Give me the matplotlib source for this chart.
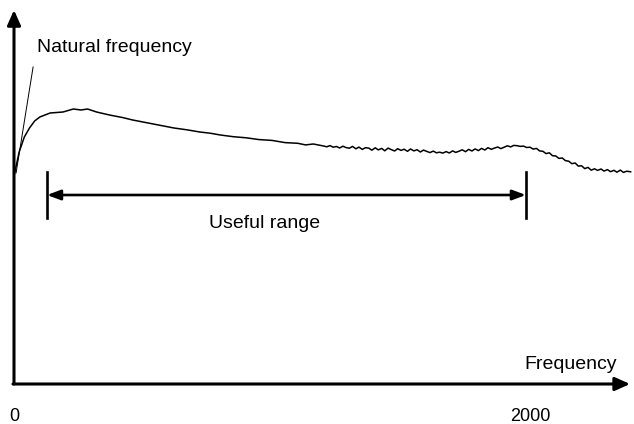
import matplotlib
matplotlib.use("Agg")
import matplotlib.pyplot as plt

plt.rcParams['font.family'] = ['Liberation Sans', 'DejaVu Sans']

# response curve (frequency, amplitude in arbitrary units)
freq = [0, 5, 20, 40, 60, 80, 100, 140, 190, 230, 260, 285, 320, 370, 420, 460,
        530, 580, 620, 670, 720, 760, 800, 850, 900, 950, 1000, 1050, 1100, 1130,
        1160,
        1200, 1212, 1225, 1237, 1250, 1262, 1275, 1287, 1300, 1312, 1325, 1337,
        1350, 1362, 1375, 1387, 1400, 1412, 1425, 1437, 1450, 1462, 1475, 1487,
        1500, 1512, 1525, 1537, 1550, 1562, 1575, 1587, 1600, 1612, 1625, 1637,
        1650, 1662, 1675, 1687, 1700, 1712, 1725, 1737, 1750, 1762, 1775, 1787,
        1800, 1812, 1825, 1837, 1850, 1862, 1875, 1887, 1900, 1912, 1925, 1937,
        1950, 1962, 1975, 1987, 2000, 2012, 2025, 2037, 2050, 2062, 2075, 2087,
        2100, 2112, 2125, 2137, 2150, 2162, 2175, 2187, 2200, 2212, 2225, 2237,
        2250, 2262, 2275, 2287, 2300, 2312, 2325, 2337, 2350, 2362, 2375, 2390]
amp = [208, 214, 232, 247, 256, 263, 267, 271, 272, 275, 274, 275, 272, 269, 266.5, 264,
       260.5, 258, 256, 254.2, 252, 250.8, 249, 247.3, 246.2, 244.4, 243.6, 241.4, 240.7, 239.1,
       240,
       238.0, 237.2, 238.4, 236.8, 237.5, 236.0, 237.8, 236.4, 235.8, 237.6, 235.2, 236.9,
       234.6, 236.3, 235.9, 233.8, 236.2, 234.1, 235.6, 233.2, 235.9, 234.4, 233.0, 235.3,
       233.6, 234.8, 232.7, 235.0, 233.1, 234.3, 232.0, 233.9, 232.6, 231.4, 232.9, 231.2,
       231.8, 230.9, 232.4, 231.0, 233.1, 231.6, 232.8, 234.2, 232.3, 234.6, 233.0, 235.1,
       233.4, 235.6, 234.0, 236.3, 234.7, 235.9, 237.0, 235.4, 236.8, 238.2, 237.1, 238.6,
       238.3, 237.6, 237.9, 236.5, 236.8, 234.9, 235.6, 233.1, 232.7, 230.4, 231.2, 228.3,
       228.0, 225.6, 226.0, 223.4, 222.8, 220.3, 221.0, 217.9, 218.2, 215.4, 216.6, 213.8,
       215.2, 213.6, 215.0, 212.9, 214.4, 212.3, 213.7, 211.8, 213.9, 211.6, 212.8, 212.2]

# tangent at the origin ("natural frequency")
tangent_freq = [8, 74]
tangent_amp = [211, 317]

# useful range marker
range_start, range_end = 128, 1984
range_level = 189
range_tick = [166, 212]

x_ticks = [0, 2000]
x_ticklabels = ['0', '2000']

fig = plt.figure(figsize=(6.34, 4.24), dpi=100)
ax = fig.add_axes([14 / 634, 40 / 424, 620 / 634, 384 / 424])
ax.set_xlim(0, 2403)
ax.set_ylim(0, 384)
for s in ax.spines.values():
    s.set_visible(False)
ax.set_yticks([])
ax.set_xticks(x_ticks)
ax.set_xticklabels(x_ticklabels, fontsize=13)
ax.tick_params(axis='x', length=0, pad=17)

# axes with arrows
ax.annotate('', xy=(0, 374), xytext=(0, 0),
            arrowprops=dict(arrowstyle='-|>,head_length=0.9,head_width=0.4',
                            lw=2.2, color='black', shrinkA=0, shrinkB=0),
            annotation_clip=False)
ax.annotate('', xy=(2388, 0), xytext=(-4, 0),
            arrowprops=dict(arrowstyle='-|>,head_length=0.9,head_width=0.4',
                            lw=2.2, color='black', shrinkA=0, shrinkB=0),
            annotation_clip=False)

ax.plot(freq, amp, color='black', lw=1.1)
ax.plot(tangent_freq, tangent_amp, color='black', lw=0.7)

ax.annotate('', xy=(range_start, range_level), xytext=(range_end, range_level),
            arrowprops=dict(arrowstyle='<|-|>,head_length=0.8,head_width=0.3',
                            lw=1.9, color='black', shrinkA=0, shrinkB=0))
ax.plot([range_start, range_start], range_tick, color='black', lw=1.9)
ax.plot([range_end, range_end], range_tick, color='black', lw=1.9)

ax.text(89, 336, 'Natural frequency', fontsize=14, ha='left', va='center')
ax.text(973, 160, 'Useful range', fontsize=14, ha='center', va='center')
ax.text(2337, 15, 'Frequency', fontsize=14, ha='right', va='baseline')

fig.savefig('out.png', dpi=100)
